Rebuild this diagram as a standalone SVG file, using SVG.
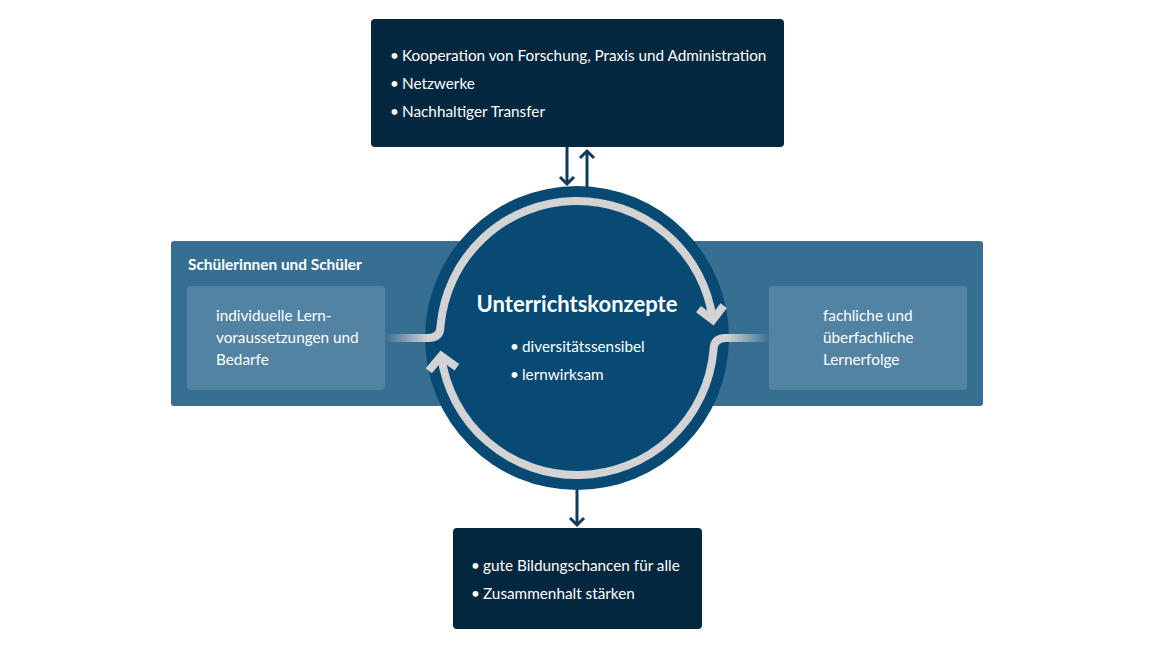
<svg xmlns="http://www.w3.org/2000/svg" width="1156" height="650" viewBox="0 0 1156 650">
  <defs>
    <style>
      .t { font-family: Lato, "Noto Sans", "Liberation Sans", sans-serif; fill: #ffffff; font-size: 15.3px; }
      .h { font-weight: bold; font-size: 15.4px; }
      .title { font-weight: bold; font-size: 22px; }
      .dark { fill: #03273f; }
      .band { fill: #376f92; }
      .inner { fill: #5283a3; }
      .ring { fill: none; stroke: #d3d3d3; stroke-width: 8; }
      .chev { fill: none; stroke: #d3d3d3; stroke-width: 8; stroke-linejoin: miter; stroke-miterlimit: 10; }
      .flow { fill: none; stroke: #0e3a5c; stroke-width: 3; }
      .head { fill: none; stroke: #0e3a5c; stroke-width: 3; stroke-linejoin: miter; }
    </style>
    <linearGradient id="fadeL" gradientUnits="userSpaceOnUse" x1="385" y1="0" x2="428" y2="0">
      <stop offset="0" stop-color="#d3d3d3" stop-opacity="0"/>
      <stop offset="1" stop-color="#d3d3d3" stop-opacity="1"/>
    </linearGradient>
    <linearGradient id="fadeR" gradientUnits="userSpaceOnUse" x1="770" y1="0" x2="727" y2="0">
      <stop offset="0" stop-color="#d3d3d3" stop-opacity="0"/>
      <stop offset="1" stop-color="#d3d3d3" stop-opacity="1"/>
    </linearGradient>
  </defs>
  <rect width="1156" height="650" fill="#ffffff"/>

  <g id="band">
    <rect class="band" x="171" y="241" width="812" height="165" rx="3"/>
    <text class="t h" x="188" y="270">Schülerinnen und Schüler</text>
  </g>

  <g id="input">
    <rect class="inner" x="187" y="286" width="198" height="104" rx="4"/>
    <text class="t" x="216" y="321">individuelle Lern-</text>
    <text class="t" x="216" y="343">voraussetzungen und</text>
    <text class="t" x="216" y="365">Bedarfe</text>
  </g>

  <g id="output">
    <rect class="inner" x="769" y="286" width="198" height="104" rx="4"/>
    <text class="t" x="823" y="321">fachliche und</text>
    <text class="t" x="823" y="343">überfachliche</text>
    <text class="t" x="823" y="365">Lernerfolge</text>
  </g>

  <g id="top">
    <rect class="dark" x="371" y="19" width="413" height="128" rx="4"/>
    <text class="t" y="61"><tspan x="390">•</tspan><tspan x="402">Kooperation von Forschung, Praxis und Administration</tspan></text>
    <text class="t" y="89"><tspan x="390">•</tspan><tspan x="402">Netzwerke</tspan></text>
    <text class="t" y="117"><tspan x="390">•</tspan><tspan x="402">Nachhaltiger Transfer</tspan></text>
  </g>

  <g id="bottom">
    <rect class="dark" x="453" y="528" width="249" height="101" rx="4"/>
    <text class="t" y="571"><tspan x="471">•</tspan><tspan x="483">gute Bildungschancen für alle</tspan></text>
    <text class="t" y="599"><tspan x="471">•</tspan><tspan x="483">Zusammenhalt stärken</tspan></text>
  </g>

  <g id="core">
    <circle cx="577" cy="338" r="152" fill="#084a74"/>
    <text class="t title" x="577" y="312" text-anchor="middle">Unterrichtskonzepte</text>
    <text class="t" y="352"><tspan x="510">•</tspan><tspan x="522">diversitätssensibel</tspan></text>
    <text class="t" y="380"><tspan x="510">•</tspan><tspan x="522">lernwirksam</tspan></text>
  </g>

  <g id="connectors">
    <line class="flow" x1="567" y1="147" x2="567" y2="184"/>
    <polyline class="head" points="560,177 567,184 574,177"/>
    <line class="flow" x1="587" y1="187" x2="587" y2="151"/>
    <polyline class="head" points="580,158 587,151 594,158"/>
    <line class="flow" x1="577" y1="490" x2="577" y2="525"/>
    <polyline class="head" points="570,518 577,525 584,518"/>

    <line x1="385" y1="338" x2="430" y2="338" stroke="url(#fadeL)" stroke-width="8"/>
    <path class="ring" d="M 428 338 Q 440.5 338 440.5 326 A 137 137 0 0 1 712.8 320"/>
    <polyline class="chev" points="723.7,305.7 712.8,320 698.5,309.1"/>

    <line x1="770" y1="338" x2="724" y2="338" stroke="url(#fadeR)" stroke-width="8"/>
    <path class="ring" d="M 726 338 Q 713.5 338 713.5 350 A 137 137 0 0 1 441.2 356"/>
    <polyline class="chev" points="428.8,370.8 441.2,356 456.9,367.3"/>
  </g>
</svg>
